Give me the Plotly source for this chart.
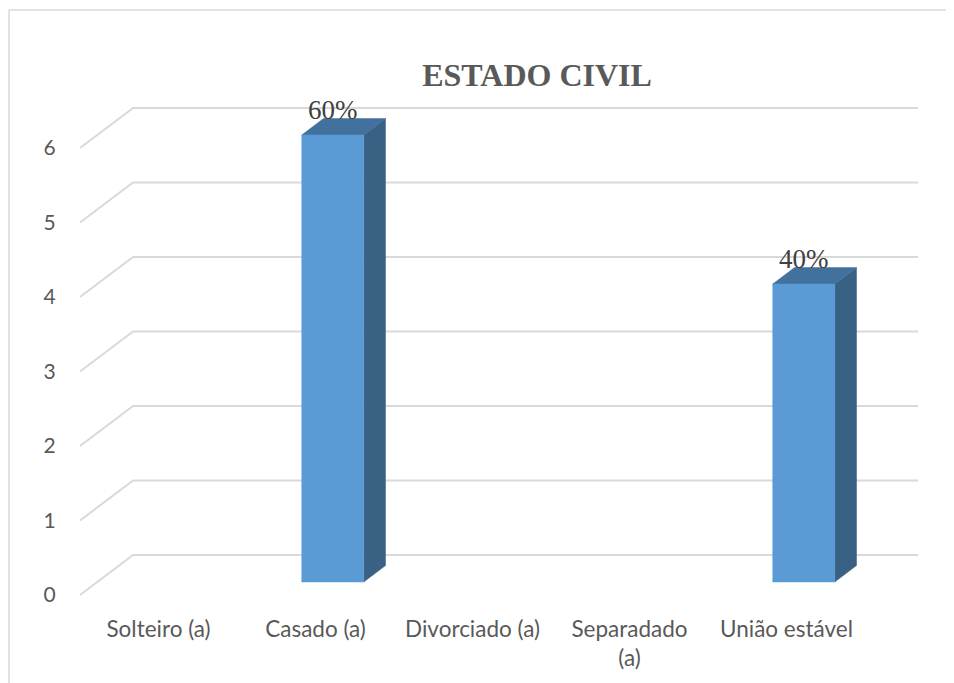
import plotly.graph_objects as go

# ---- data ----
categories = ["Solteiro (a)", "Casado (a)", "Divorciado (a)", "Separadado (a)", "União estável"]
tick_text = ["Solteiro (a)", "Casado (a)", "Divorciado (a)", "Separadado<br>(a)", "União estável"]
values = [0, 6, 0, 0, 4]
y_ticks = [0, 1, 2, 3, 4, 5, 6]
title_text = "ESTADO CIVIL"

total = sum(values)
pct_labels = [f"{round(v / total * 100)}%" for v in values]

# ---- oblique 3D geometry (in data units) ----
DX = 0.338      # depth shift along x for full depth
DY = 0.537      # depth shift along y for full depth
D0, D1 = 0.325, 0.735   # bar front / back depth fraction
W = 0.395       # bar width (category units)

GRID = "#d9d9d9"
FRONT = "#5b9bd5"
TOP = "#41719c"
SIDE = "#386184"
TXT = "#595959"

fig = go.Figure()

n = len(categories)
# gridlines: side-wall diagonal + back wall line
for v in y_ticks:
    fig.add_trace(go.Scatter(
        x=[-0.5, -0.5 + DX, n - 0.5 + DX],
        y=[v, v + DY, v + DY],
        mode="lines", line=dict(color=GRID, width=2),
        hoverinfo="skip", showlegend=False))

def poly(xs, ys, color):
    fig.add_trace(go.Scatter(
        x=xs + [xs[0]], y=ys + [ys[0]], mode="lines", fill="toself",
        fillcolor=color, line=dict(color=color, width=0.5),
        hoverinfo="skip", showlegend=False))

for i, v in enumerate(values):
    if v <= 0:
        continue
    xl = i - W / 2
    xr = i + W / 2
    # side face
    poly([xr + D0 * DX, xr + D1 * DX, xr + D1 * DX, xr + D0 * DX],
         [D0 * DY, D1 * DY, v + D1 * DY, v + D0 * DY], SIDE)
    # top face
    poly([xl + D0 * DX, xr + D0 * DX, xr + D1 * DX, xl + D1 * DX],
         [v + D0 * DY, v + D0 * DY, v + D1 * DY, v + D1 * DY], TOP)
    # front face
    poly([xl + D0 * DX, xr + D0 * DX, xr + D0 * DX, xl + D0 * DX],
         [D0 * DY, D0 * DY, v + D0 * DY, v + D0 * DY], FRONT)
    fig.add_annotation(
        x=i + D0 * DX, y=v + D1 * DY, text=pct_labels[i],
        showarrow=False, yanchor="middle", yshift=9,
        font=dict(family="Liberation Serif", size=27, color="#404040"))

# ---- layout (pixel geometry; page body has an 8px margin) ----
OFF = 8
WIDTH, HEIGHT = 954 - OFF, 683 - OFF
L, R, T, B = 78 - OFF, 930 - OFF, 90 - OFF, 600 - OFF
X_PX0, X_UNIT = 80 - OFF, 157      # px of category -0.5 front, px per category
Y_PX0, Y_UNIT = 595 - OFF, 74.5    # px of value 0 front, px per unit

xr0 = (L - X_PX0) / X_UNIT - 0.5
xr1 = (R - X_PX0) / X_UNIT - 0.5
yr0 = (Y_PX0 - B) / Y_UNIT
yr1 = (Y_PX0 - T) / Y_UNIT

bx = (9 - OFF - L) / (R - L)          # paper x of left border
by = (B - (10 - OFF)) / (B - T)       # paper y of top border
far_x = (WIDTH + 20 - L) / (R - L)
far_y = (B - (HEIGHT + 20)) / (B - T)

fig.update_layout(
    width=WIDTH, height=HEIGHT,
    margin=dict(l=L, r=WIDTH - R, t=T, b=HEIGHT - B),
    paper_bgcolor="white", plot_bgcolor="white",
    title=dict(text="<b>" + title_text + "</b>", x=(537 - OFF) / WIDTH, xanchor="center",
               y=1 - (75 - OFF) / HEIGHT, yanchor="middle", yref="container", xref="container",
               font=dict(family="Liberation Serif", size=32, color=TXT)),
    xaxis=dict(range=[xr0, xr1], showgrid=False, zeroline=False, showline=False,
               tickvals=list(range(n)), ticktext=tick_text, automargin=False,
               ticks="outside", ticklen=9, tickcolor="rgba(0,0,0,0)",
               tickfont=dict(family="Lato", size=22.5, color=TXT), fixedrange=True),
    yaxis=dict(range=[yr0, yr1], showgrid=False, zeroline=False, showline=False,
               tickvals=y_ticks, ticks="outside", ticklen=17, tickcolor="rgba(0,0,0,0)",
               automargin=False,
               tickfont=dict(family="Lato", size=21, color=TXT), fixedrange=True),
    shapes=[
        dict(type="line", xref="paper", yref="paper", x0=bx, x1=far_x, y0=by, y1=by,
             line=dict(color=GRID, width=1.5), layer="below"),
        dict(type="line", xref="paper", yref="paper", x0=bx, x1=bx, y0=by, y1=far_y,
             line=dict(color=GRID, width=1.5), layer="below"),
    ],
)

fig.write_html("out.html")
